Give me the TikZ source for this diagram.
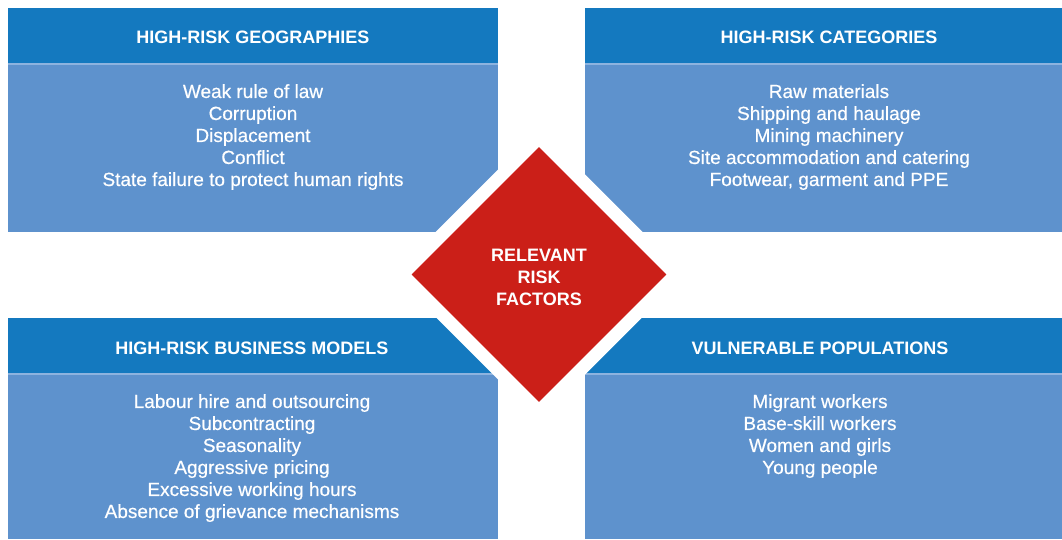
\documentclass[tikz,border=0pt]{standalone}
\usepackage{fontspec}
\setmainfont{Liberation Sans}
\newfontfamily\listfont[FakeBold=0.5]{Liberation Sans}
\usetikzlibrary{shapes.geometric}
\definecolor{headblue}{RGB}{20,121,191}
\definecolor{bodyblue}{RGB}{94,146,205}
\definecolor{lineblue}{RGB}{141,179,223}
\definecolor{riskred}{RGB}{203,31,24}
\newcommand\leftw{490pt}
\newcommand\rightw{477pt}

\begin{document}
\begin{tikzpicture}[x=1pt, y=1pt,
    head/.style = {fill=headblue, minimum height=56pt, inner sep=0pt},
    panel/.style = {fill=bodyblue, inner sep=0pt},
    title/.style = {text=white, font=\fontsize{18}{22}\selectfont\bfseries, anchor=base},
    items/.style = {text=white, font=\listfont\fontsize{19}{22}\selectfont, align=center, anchor=north, inner sep=0pt},
    sep/.style = {lineblue, line width=1.5pt}]
    \useasboundingbox (0,0) rectangle (1062,539);

    %Top left
    \node at (253,503) [head, minimum width=\leftw] (geohead) {};
    \node at (253,391) [panel, minimum width=\leftw, minimum height=168pt] (geobody) {};
    \draw[sep] (geohead.south west) -- (geohead.south east);
    \node at (253,495) [title] (geotitle) {HIGH-RISK GEOGRAPHIES};
    \node at (253,455) [items] (geolist) {Weak rule of law\\Corruption\\Displacement\\Conflict\\State failure to protect human rights};

    %Top right
    \node at (823.5,503) [head, minimum width=\rightw] (cathead) {};
    \node at (823.5,391) [panel, minimum width=\rightw, minimum height=168pt] (catbody) {};
    \draw[sep] (cathead.south west) -- (cathead.south east);
    \node at (829,495) [title] (cattitle) {HIGH-RISK CATEGORIES};
    \node at (829,455) [items] (catlist) {Raw materials\\Shipping and haulage\\Mining machinery\\Site accommodation and catering\\Footwear, garment and PPE};

    %Bottom left
    \node at (253,193) [head, minimum width=\leftw] (bizhead) {};
    \node at (253,82.5) [panel, minimum width=\leftw, minimum height=165pt] (bizbody) {};
    \draw[sep] (bizhead.south west) -- (bizhead.south east);
    \node at (252,185) [title] (biztitle) {HIGH-RISK BUSINESS MODELS};
    \node at (252,145) [items] (bizlist) {Labour hire and outsourcing\\Subcontracting\\Seasonality\\Aggressive pricing\\Excessive working hours\\Absence of grievance mechanisms};

    %Bottom right
    \node at (823.5,193) [head, minimum width=\rightw] (pophead) {};
    \node at (823.5,82.5) [panel, minimum width=\rightw, minimum height=165pt] (popbody) {};
    \draw[sep] (pophead.south west) -- (pophead.south east);
    \node at (820,185) [title] (poptitle) {VULNERABLE POPULATIONS};
    \node at (820,145) [items] (poplist) {Migrant workers\\Base-skill workers\\Women and girls\\Young people};

    %Centre
    \node at (539,264.5) [diamond, aspect=1, minimum width=279pt, minimum height=279pt, fill=riskred, draw=white, line width=13pt, inner sep=0pt] (risk) {};
    \node at (risk.center) [title, anchor=center, align=center, yshift=-2.5pt] (risklabel) {RELEVANT\\RISK\\FACTORS};

\end{tikzpicture}
\end{document}
